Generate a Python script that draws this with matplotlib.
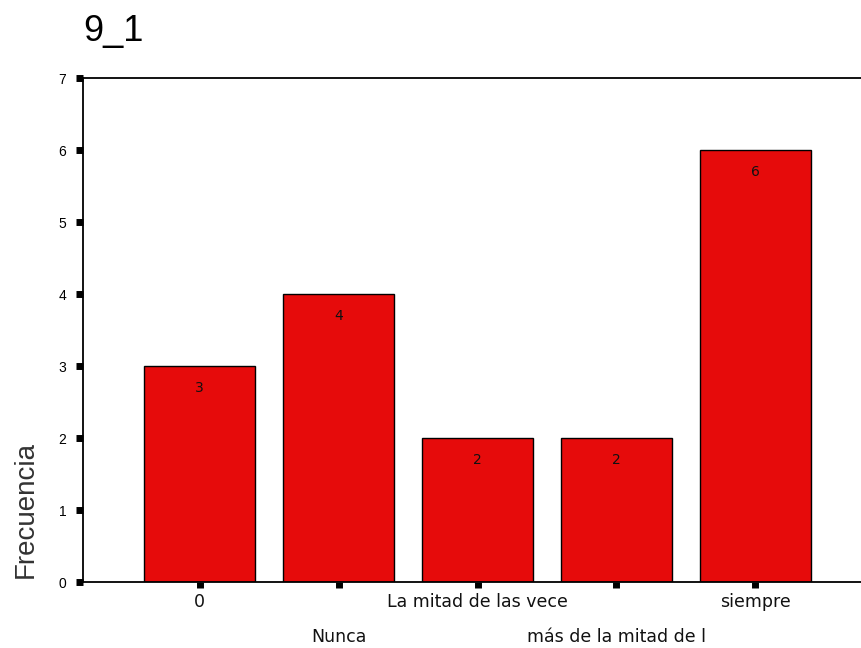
import matplotlib
matplotlib.use("Agg")
import matplotlib.pyplot as plt
import numpy as np

title = "9_1"
categories = ["0", "Nunca", "La mitad de las vece", "más de la mitad de l", "siempre"]
values = [3, 4, 2, 2, 6]
y_ticks = [0, 1, 2, 3, 4, 5, 6, 7]

fig = plt.figure(figsize=(8.61, 6.48), dpi=100)
ax = fig.add_axes([83 / 861, 66 / 648, 778 / 861, 504 / 648])

x = np.arange(len(categories))
bars = ax.bar(x, values, width=0.8, color="#E60B0B", edgecolor="black", linewidth=1.0, zorder=2)

ax.set_xlim(-0.84, 4.76)
ax.set_ylim(0, 7)
ax.set_yticks(y_ticks)
ax.set_yticklabels([str(t) for t in y_ticks], fontsize=10, family="Liberation Sans")
ax.set_xticks(x)
ax.set_xticklabels([])

ax.tick_params(axis="y", direction="out", length=5, width=5, color="black", pad=7)
ax.tick_params(axis="x", direction="out", length=4, width=5, color="black")

for s in ["left", "top", "bottom"]:
    ax.spines[s].set_linewidth(1.3)
ax.spines["right"].set_visible(False)

# value labels inside bars
for xi, v in zip(x, values):
    ax.annotate(str(v), xy=(xi, v), xytext=(0, -22), textcoords="offset pixels",
                ha="center", va="center", fontsize=10, family="DejaVu Sans", color="#111111")

# staggered category labels
for i, (xi, lab) in enumerate(zip(x, categories)):
    off = -20 if i % 2 == 0 else -55
    ax.annotate(lab, xy=(xi, 0), xycoords=("data", "axes fraction"),
                xytext=(0, off), textcoords="offset pixels",
                ha="center", va="center", fontsize=12.5, family="DejaVu Sans", color="#111111")

fig.text(83 / 861, 1 - 31 / 648, title, fontsize=26, family="Liberation Sans",
         ha="left", va="center", color="black")
fig.text(26 / 861, 1 - 509 / 648, "Frecuencia", fontsize=20, family="Liberation Sans",
         rotation=90, ha="center", va="center", color="#333333")

fig.savefig("out.png", dpi=100)
